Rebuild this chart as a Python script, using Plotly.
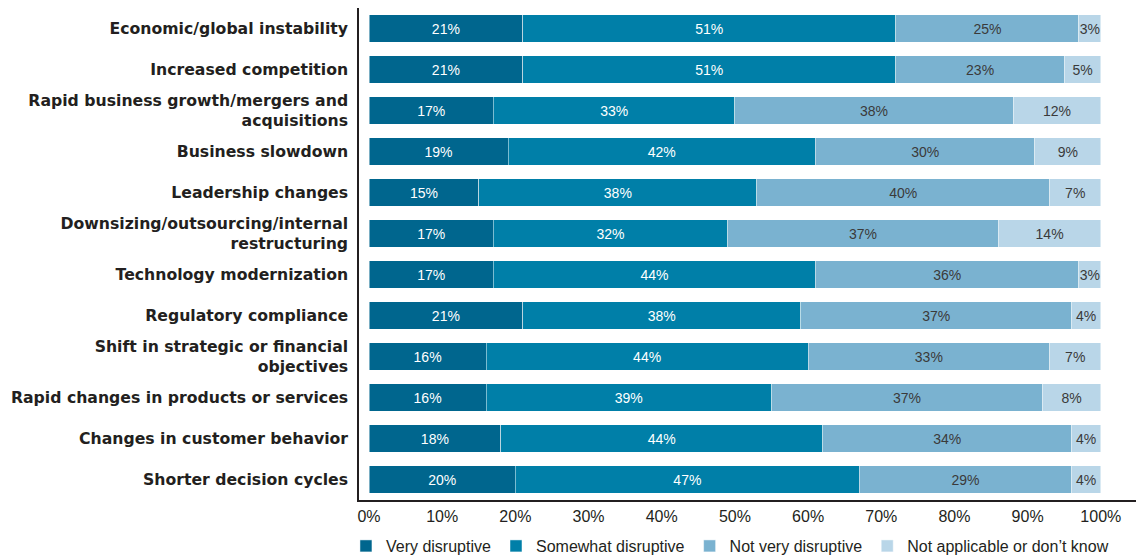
import plotly.graph_objects as go

categories = [
    "Economic/global instability",
    "Increased competition",
    "Rapid business growth/mergers and<br>acquisitions",
    "Business slowdown",
    "Leadership changes",
    "Downsizing/outsourcing/internal<br>restructuring",
    "Technology modernization",
    "Regulatory compliance",
    "Shift in strategic or financial<br>objectives",
    "Rapid changes in products or services",
    "Changes in customer behavior",
    "Shorter decision cycles",
]

very_disruptive = [21, 21, 17, 19, 15, 17, 17, 21, 16, 16, 18, 20]
somewhat_disruptive = [51, 51, 33, 42, 38, 32, 44, 38, 44, 39, 44, 47]
not_very_disruptive = [25, 23, 38, 30, 40, 37, 36, 37, 33, 37, 34, 29]
not_applicable = [3, 5, 12, 9, 7, 14, 3, 4, 7, 8, 4, 4]

series = [
    ("Very disruptive", very_disruptive, "#00668e", "white"),
    ("Somewhat disruptive", somewhat_disruptive, "#007fa8", "white"),
    ("Not very disruptive", not_very_disruptive, "#7ab2d0", "#3a3a3a"),
    ("Not applicable or don\u2019t know", not_applicable, "#b9d6e8", "#3a3a3a"),
]

x_ticks = [0, 10, 20, 30, 40, 50, 60, 70, 80, 90, 100]
x_ticklabels = [f"{v}%" for v in x_ticks]

fig = go.Figure()
for name, vals, color, tcolor in series:
    fig.add_trace(go.Bar(
        y=categories,
        x=vals,
        name=name,
        orientation="h",
        marker=dict(color=color, line=dict(width=0.8, color="rgba(255,255,255,0.6)")),
        text=[f"{v}%" for v in vals],
        textposition="inside",
        insidetextanchor="middle",
        textangle=0,
        constraintext="none",
        textfont=dict(family="Liberation Sans, Arial, sans-serif", size=14, color=tcolor),
        hoverinfo="skip",
    ))

# the page body has an 8px margin, so the figure is sized to fill the remaining window
fig.update_layout(
    barmode="stack",
    bargap=0.34,
    width=1136,
    height=550,
    margin=dict(l=351, r=0, t=0, b=58, autoexpand=False),
    plot_bgcolor="white",
    paper_bgcolor="white",
    showlegend=True,
    legend=dict(
        orientation="h",
        xref="container",
        yref="container",
        x=0.2975,
        xanchor="left",
        y=0.0218,
        yanchor="middle",
        font=dict(family="Liberation Sans, Arial, sans-serif", size=16, color="#231f20"),
        itemwidth=30,
        traceorder="normal",
    ),
    xaxis=dict(
        range=[-1.37, 105.9],
        tickvals=x_ticks,
        ticktext=x_ticklabels,
        showgrid=False,
        zeroline=False,
        showline=True,
        linecolor="#231f20",
        linewidth=1.5,
        ticks="",
        ticklabelstandoff=1,
        tickfont=dict(family="Liberation Sans, Arial, sans-serif", size=16, color="#231f20"),
        automargin=False,
        fixedrange=True,
    ),
    yaxis=dict(
        autorange="reversed",
        showgrid=False,
        zeroline=False,
        showline=True,
        linecolor="#231f20",
        linewidth=1.5,
        ticks="",
        ticklabelstandoff=6,
        tickfont=dict(family="DejaVu Sans, sans-serif", size=15.7, color="#231f20", weight="bold"),
        automargin=False,
        fixedrange=True,
    ),
)

fig.write_html("out.html")
